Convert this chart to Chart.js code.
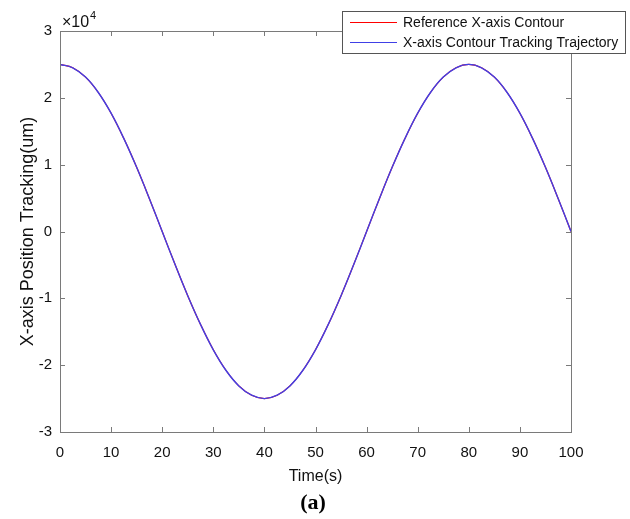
<!DOCTYPE html>
<html>
<head>
<meta charset="utf-8">
<script src="https://cdn.jsdelivr.net/npm/chart.js@4"></script>
<style>
  html, body { margin: 0; padding: 0; background: #fff; }
  #wrap { width: 630px; height: 519px; }
</style>
</head>
<body>
<div id="wrap"><canvas id="contour-chart" width="630" height="519"></canvas></div>
<script>
// values (um)
const timeSec = [0, 2.5, 5, 7.5, 10, 12.5, 15, 17.5, 20, 22.5, 25, 27.5, 30, 32.5, 35, 37.5, 40,
  42.5, 45, 47.5, 50, 52.5, 55, 57.5, 60, 62.5, 65, 67.5, 70, 72.5, 75, 77.5, 80,
  82.5, 85, 87.5, 90, 92.5, 95, 97.5, 100];
const referenceX = [25000, 24500, 23100, 20800, 17700, 13900, 9600, 4900, 0, -4900, -9600, -13900, -17700, -20800, -23100, -24500, -25000,
  -24500, -23100, -20800, -17700, -13900, -9600, -4900, 0, 4900, 9600, 13900, 17700, 20800, 23100, 24500, 25000,
  24500, 23100, 20800, 17700, 13900, 9600, 4900, 0];
const trackingX = [25000, 24500, 23100, 20800, 17700, 13900, 9600, 4900, 0, -4900, -9600, -13900, -17700, -20800, -23100, -24500, -25000,
  -24500, -23100, -20800, -17700, -13900, -9600, -4900, 0, 4900, 9600, 13900, 17700, 20800, 23100, 24500, 25000,
  24500, 23100, 20800, 17700, 13900, 9600, 4900, 0];
const xTicks = [0, 10, 20, 30, 40, 50, 60, 70, 80, 90, 100];
const yTicks = [-30000, -20000, -10000, 0, 10000, 20000, 30000];

const FONT = '"Liberation Sans", Arial, sans-serif';
const AXIS_COLOR = '#7a7a7a';

function toPoints(xs, ys) {
    return xs.map((x, i) => ({ x: x, y: ys[i] }));
}

// box + inward ticks on all four sides, like a matlab axes
const boxAxes = {
    id: 'boxAxes',
    afterDatasetsDraw(chart) {
        const ctx = chart.ctx;
        const a = chart.chartArea;
        const xs = chart.scales.x, ys = chart.scales.y;
        ctx.save();
        ctx.strokeStyle = AXIS_COLOR;
        ctx.lineWidth = 1;
        ctx.beginPath();
        xTicks.forEach(v => {
            const px = Math.round(xs.getPixelForValue(v)) + 0.5;
            ctx.moveTo(px, a.bottom); ctx.lineTo(px, a.bottom - 5);
            ctx.moveTo(px, a.top); ctx.lineTo(px, a.top + 5);
        });
        yTicks.forEach(v => {
            const py = Math.round(ys.getPixelForValue(v)) + 0.5;
            ctx.moveTo(a.left, py); ctx.lineTo(a.left + 5, py);
            ctx.moveTo(a.right, py); ctx.lineTo(a.right - 5, py);
        });
        ctx.stroke();
        ctx.strokeRect(Math.round(a.left) + 0.5, Math.round(a.top) + 0.5,
            Math.round(a.right - a.left), Math.round(a.bottom - a.top));
        // exponent label
        ctx.fillStyle = '#111';
        ctx.font = '16px ' + FONT;
        ctx.textBaseline = 'alphabetic';
        ctx.fillText('\u00d710', a.left + 2, a.top - 4);
        ctx.font = '11px ' + FONT;
        ctx.fillText('4', a.left + 30, a.top - 12);
        ctx.restore();
    }
};

// legend box overlapping the top right corner, and the "(a)" caption
const boxLegend = {
    id: 'boxLegend',
    afterDraw(chart) {
        const ctx = chart.ctx;
        const x0 = 342, y0 = 11, w = 283, h = 42;
        ctx.save();
        ctx.fillStyle = '#fff';
        ctx.fillRect(x0, y0, w, h);
        ctx.strokeStyle = '#555';
        ctx.lineWidth = 1;
        ctx.strokeRect(x0 + 0.5, y0 + 0.5, w, h);
        ctx.font = '14px ' + FONT;
        ctx.textBaseline = 'middle';
        chart.data.datasets.forEach((ds, i) => {
            const y = y0 + 11 + i * 20;
            ctx.strokeStyle = ds.borderColor;
            ctx.beginPath();
            ctx.moveTo(x0 + 8, y + 0.5); ctx.lineTo(x0 + 55, y + 0.5);
            ctx.stroke();
            ctx.fillStyle = '#111';
            ctx.fillText(ds.label, x0 + 61, y + 1);
        });
        ctx.font = 'bold 22px "Liberation Serif", "Times New Roman", serif';
        ctx.textAlign = 'center';
        ctx.fillStyle = '#000';
        ctx.fillText('(a)', 313, 503);
        ctx.restore();
    }
};

const contourChart = new Chart(document.querySelector('#contour-chart').getContext('2d'), {
    type: 'line',
    data: {
        datasets: [
            {
                label: 'Reference X-axis Contour',
                data: toPoints(timeSec, referenceX),
                borderColor: '#ff0000',
                borderWidth: 1.2,
                pointRadius: 0,
                tension: 0.4,
                order: 1
            },
            {
                label: 'X-axis Contour Tracking Trajectory',
                data: toPoints(timeSec, trackingX),
                borderColor: '#4040e6',
                borderWidth: 1.4,
                pointRadius: 0,
                tension: 0.4,
                order: 0
            }
        ]
    },
    options: {
        responsive: false,
        animation: false,
        layout: { padding: { left: 17, right: 59, top: 31, bottom: 33 } },
        plugins: {
            legend: { display: false },
            tooltip: { enabled: false }
        },
        scales: {
            x: {
                type: 'linear',
                min: 0,
                max: 100,
                afterBuildTicks(scale) { scale.ticks = xTicks.map(v => ({ value: v })); },
                afterFit(scale) { scale.height = 54; },
                grid: { display: false, drawTicks: false },
                border: { display: false },
                ticks: { color: '#111', font: { family: FONT, size: 15 }, padding: 12, maxRotation: 0 },
                title: { display: true, text: 'Time(s)', color: '#111', font: { family: FONT, size: 16 }, padding: { top: 0, bottom: 0 } }
            },
            y: {
                min: -30000,
                max: 30000,
                afterBuildTicks(scale) { scale.ticks = yTicks.map(v => ({ value: v })); },
                afterFit(scale) { scale.width = 43; },
                grid: { display: false, drawTicks: false },
                border: { display: false },
                ticks: {
                    color: '#111',
                    font: { family: FONT, size: 15 },
                    padding: 8,
                    callback: v => String(v / 10000)
                },
                title: { display: true, text: 'X-axis Position Tracking(um)', color: '#111', font: { family: FONT, size: 18 }, padding: { top: 0, bottom: 0 } }
            }
        }
    },
    plugins: [boxAxes, boxLegend]
});
</script>
</body>
</html>
